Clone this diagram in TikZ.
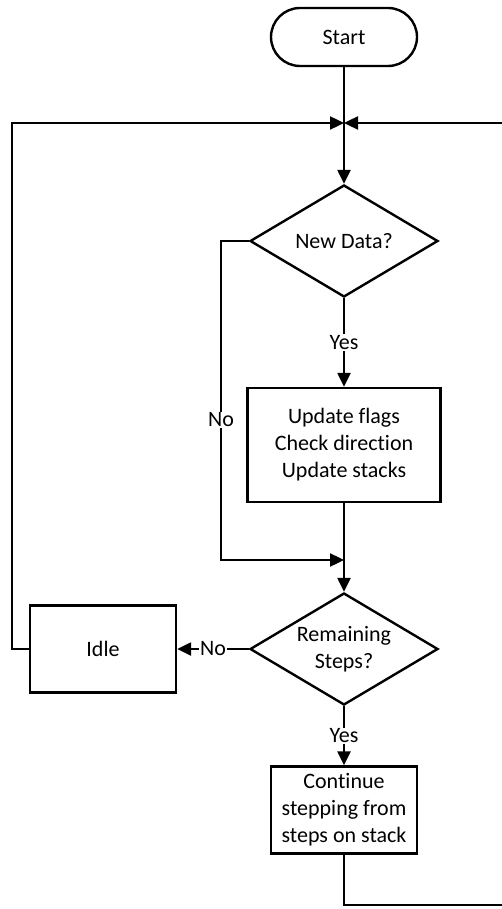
\documentclass[tikz,border=0pt]{standalone}
\usepackage{fontspec}
\setmainfont{Carlito}[RawFeature={-liga;-clig}]
\usetikzlibrary{shapes,positioning}
\usetikzlibrary{calc}
\usetikzlibrary{arrows.meta}
\tikzset{
	bloc/.style={draw,line width=2.4pt,minimum width=146pt,minimum height=87pt,inner sep=0pt,align=center},
	losange/.style={draw,diamond,line width=2.4pt,minimum width=188pt,minimum height=112pt,inner sep=0pt,aspect=1.68,align=center},
	lien/.style={line width=2.4pt},
	fleche/.style={lien,-{Triangle[length=14pt,width=13pt]}},
	etiq/.style={fill=white,inner sep=1pt}
}

\begin{document}
\begin{tikzpicture}[x=1pt,y=-1pt,font=\fontsize{22}{27}\selectfont]
\useasboundingbox (0,0) rectangle (501,909);
\fill[white] (0,0) rectangle (501,909);

%Blocs
\node[bloc,rounded corners=29pt,minimum height=58pt] (start) at (344,37) {Start};
\node[losange] (nouv) at (344,241) {New Data?};
\node[bloc,minimum width=193pt,minimum height=114pt] (maj) at (344,445) {Update flags\\Check direction\\Update stacks};
\node[losange] (reste) at (344,649) {Remaining\\Steps?};
\node[bloc] (idle) at (103,649) {Idle};
\node[bloc] (cont) at (344,810) {Continue\\stepping from\\steps on stack};

%Points de jonction
\coordinate (J) at (344,123);
\coordinate (M) at (344,560);
\coordinate (coin) at (221,560);
\coordinate (G) at (12,123);
\coordinate (Dbas) at (503,905);  % la boucle de droite sort du cadre
\coordinate (Dhaut) at (503,123);

%Liens
\draw[fleche] (start) -- (nouv);
\draw[fleche] (nouv) -- node[etiq]{Yes} (maj);
\draw[fleche] (nouv.west) -| node[etiq,pos=0.78]{No} (coin) -- (M);
\draw[fleche] (maj) -- (reste);
\draw[fleche] (reste) -- node[etiq]{No} (idle);
\draw[fleche] (reste) -- node[etiq]{Yes} (cont);

%Boucles de retour
\draw[fleche] (idle.west) -| (G) -- (J);
\draw[lien] (cont.south) |- (Dbas);
\draw[fleche] (Dhaut) -- (J);

\end{tikzpicture}
\end{document}
